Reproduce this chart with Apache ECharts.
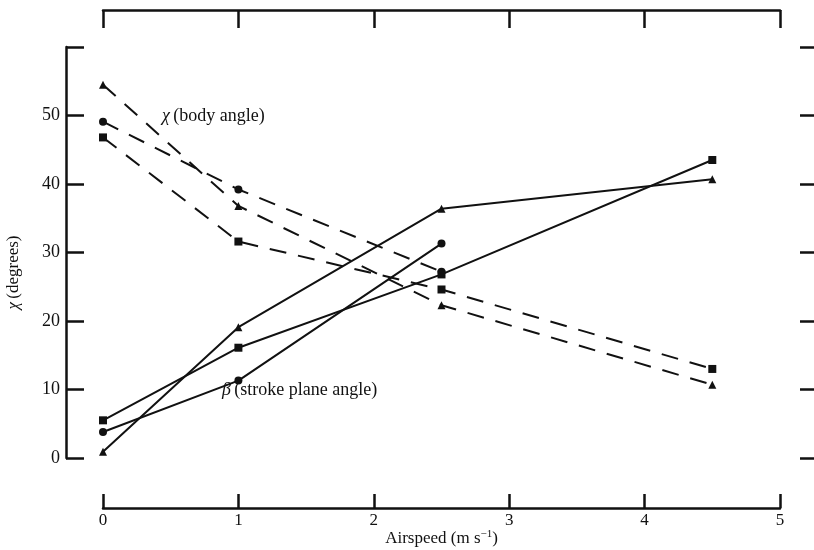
<!DOCTYPE html>
<html>
<head>
<meta charset="utf-8">
<script src="https://cdn.jsdelivr.net/npm/echarts@6/dist/echarts.min.js"></script>
<style>html,body{margin:0;padding:0;background:#fff}#c{width:814px;height:550px}</style>
</head>
<body>
<div id="c"></div>
<script>
const airspeed = [0, 1, 2.5, 4.5];
const chiTriangle = [54.5, 36.8, 22.3, 10.7];
const chiCircle = [49.1, 39.2, 27.2];
const chiSquare = [46.8, 31.6, 24.6, 13.0];
const betaTriangle = [0.9, 19.1, 36.4, 40.7];
const betaCircle = [3.8, 11.3, 31.3];
const betaSquare = [5.5, 16.1, 26.8, 43.5];
const xTicks = [0, 1, 2, 3, 4, 5];
const yTicks = [0, 10, 20, 30, 40, 50, 60];

const FONT = '"Liberation Serif", "DejaVu Serif", serif';
const INK = '#111';

function pairs(vals) { return vals.map((v, i) => [airspeed[i], v]); }

function mk(name, vals, symbol, dashed) {
  return {
    name: name, type: 'line', data: pairs(vals),
    symbol: symbol, symbolSize: 8,
    showSymbol: true, animation: false,
    itemStyle: { color: INK },
    lineStyle: { color: INK, width: 2, type: dashed ? [17, 12] : 'solid' },
    z: 3
  };
}

const chart = echarts.init(document.getElementById('c'), null, { renderer: 'canvas' });
const axisLineStyle = { color: INK, width: 2.5 };
chart.setOption({
  backgroundColor: '#fff',
  animation: false,
  grid: { left: 103, right: 34, top: 47, bottom: 92, containLabel: false, outerBoundsMode: 'none' },
  xAxis: [
    {
      type: 'value', min: 0, max: 5, interval: 1, position: 'bottom', offset: 50,
      axisLine: { show: true, onZero: false, lineStyle: axisLineStyle },
      axisTick: { show: true, inside: true, length: 14, lineStyle: axisLineStyle },
      axisLabel: { show: true, margin: 4, color: INK, fontFamily: FONT, fontSize: 17,
        formatter: v => xTicks.includes(v) ? String(v) : '' },
      splitLine: { show: false },
      name: '{a|Airspeed (m s}{s|−1}{a|)}',
      nameLocation: 'middle', nameGap: 21, nameMoveOverlap: false,
      nameTextStyle: { rich: {
        a: { fontFamily: FONT, fontSize: 17, color: INK },
        s: { fontFamily: FONT, fontSize: 11, color: INK, verticalAlign: 'top', padding: [0, 0, 8, 0] }
      } }
    },
    {
      type: 'value', min: 0, max: 5, interval: 1, position: 'top', offset: 37,
      axisLine: { show: true, onZero: false, lineStyle: axisLineStyle },
      axisTick: { show: true, inside: true, length: 18, lineStyle: axisLineStyle },
      axisLabel: { show: false }, splitLine: { show: false }
    }
  ],
  yAxis: [
    {
      type: 'value', min: 0, max: 60, interval: 10, position: 'left', offset: 37,
      axisLine: { show: true, onZero: false, lineStyle: axisLineStyle },
      axisTick: { show: true, inside: true, length: 18, lineStyle: axisLineStyle },
      axisLabel: { show: true, margin: 6, color: INK, fontFamily: FONT, fontSize: 18,
        formatter: v => (v === 60 ? '' : String(v)) },
      splitLine: { show: false },
      name: '{i|χ} {a|(degrees)}', nameLocation: 'middle', nameGap: 44, nameRotate: 90,
      nameMoveOverlap: false,
      nameTextStyle: { padding: [0, 0, 0, -40], rich: {
        i: { fontFamily: FONT, fontSize: 17, fontStyle: 'italic', color: INK },
        a: { fontFamily: FONT, fontSize: 17, color: INK }
      } }
    },
    {
      type: 'value', min: 0, max: 60, interval: 10, position: 'right', offset: 34,
      axisLine: { show: false, onZero: false },
      axisTick: { show: true, inside: true, length: 14, lineStyle: axisLineStyle },
      axisLabel: { show: false }, splitLine: { show: false }
    }
  ],
  graphic: [
    { type: 'text', left: 162, top: 107, z: 10,
      style: { text: '{i|χ} {a|(body angle)}', rich: {
        i: { fontFamily: FONT, fontSize: 18, fontStyle: 'italic', fill: INK },
        a: { fontFamily: FONT, fontSize: 18, fill: INK } } } },
    { type: 'text', left: 222, top: 381, z: 10,
      style: { text: '{i|β} {a|(stroke plane angle)}', rich: {
        i: { fontFamily: FONT, fontSize: 18, fontStyle: 'italic', fill: INK },
        a: { fontFamily: FONT, fontSize: 18, fill: INK } } } }
  ],
  series: [
    mk('χ triangle', chiTriangle, 'triangle', true),
    mk('χ circle', chiCircle, 'circle', true),
    mk('χ square', chiSquare, 'rect', true),
    mk('β triangle', betaTriangle, 'triangle', false),
    mk('β circle', betaCircle, 'circle', false),
    mk('β square', betaSquare, 'rect', false)
  ]
});
</script>
</body>
</html>
